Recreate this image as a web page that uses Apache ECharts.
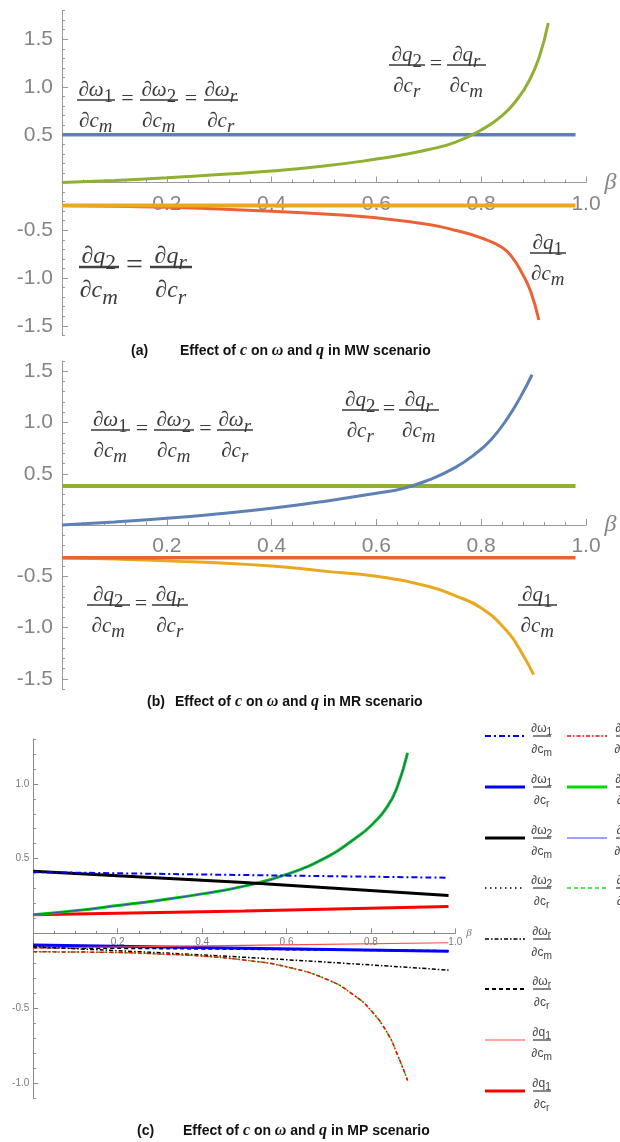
<!DOCTYPE html>
<html><head><meta charset="utf-8">
<script src="https://cdn.jsdelivr.net/npm/echarts@6/dist/echarts.min.js"></script>
<style>html,body{margin:0;padding:0;background:#fff}#c{width:620px;height:1142px}</style>
</head><body><div id="c"></div>
<script>
// ---------------- DATA ----------------
// Panel (a) MW scenario
const betaFlatA = [0, 0.98];
const dwdcA = [0.5, 0.5];                  // dω1/dcm = dω2/dcm = dωr/dcr
const dq2dcmA = [-0.24, -0.24];            // dq2/dcm = dqr/dcr
const betaGreenA = [0,0.1,0.2,0.3,0.4,0.5,0.6,0.65,0.7,0.75,0.8,0.84,0.87,0.89,0.91,0.928];
const dq2dcrA = [0,0.022,0.05,0.083,0.12,0.172,0.245,0.29,0.345,0.42,0.55,0.70,0.88,1.05,1.30,1.67];
const betaRedA = [0,0.1,0.2,0.3,0.4,0.5,0.6,0.7,0.75,0.8,0.84,0.86,0.88,0.895,0.91];
const dq1dcmA = [-0.24,-0.248,-0.26,-0.277,-0.30,-0.33,-0.37,-0.44,-0.50,-0.58,-0.68,-0.79,-0.97,-1.15,-1.44];

// Panel (b) MR scenario
const betaFlatB = [0, 0.98];
const dwdcB = [0.38, 0.38];
const dq2dcmB = [-0.32, -0.32];
const betaBlueB = [0,0.1,0.2,0.3,0.4,0.5,0.6,0.65,0.7,0.75,0.79,0.82,0.85,0.875,0.897];
const dq2dcrB = [0,0.03,0.065,0.11,0.163,0.23,0.31,0.355,0.44,0.56,0.70,0.84,1.04,1.25,1.466];
const betaYelB = [0,0.2,0.4,0.5,0.6,0.7,0.75,0.8,0.85,0.88,0.9];
const dq1dcmB = [-0.32,-0.35,-0.40,-0.45,-0.50,-0.60,-0.69,-0.81,-1.04,-1.27,-1.46];

// Panel (c) MP scenario
const betaLinC = [0, 0.5, 0.984];
const dw1dcmC = [0.41, 0.39, 0.372];
const dw1dcrC = [-0.078, -0.10, -0.12];
const dw2dcmC = [0.415, 0.34, 0.253];
const dw2dcrC = [-0.082, -0.10, -0.12];
const dwrdcmC = [-0.09, -0.16, -0.246];
const dwrdcrC = [-0.095, -0.105, -0.118];
const dq1dcmC = [-0.098, -0.08, -0.063];
const dq1dcrC = [0.125, 0.15, 0.18];
const betaCurC = [0,0.1,0.2,0.3,0.4,0.5,0.6,0.7,0.76,0.8,0.84,0.862,0.887];
const dq2dcrC = [0.125,0.152,0.186,0.222,0.264,0.316,0.394,0.517,0.63,0.72,0.853,0.976,1.207];   // = dqr/dcm
const dq2dcmC = [-0.123,-0.125,-0.128,-0.138,-0.152,-0.179,-0.224,-0.313,-0.414,-0.515,-0.671,-0.805,-0.984]; // = dqr/dcr

const ticksAB = [-1.5,-1,-0.5,0.5,1,1.5];
const ticksC = [-1,-0.5,0.5,1];

// ---------------- HELPERS ----------------
const pts = (xs, ys) => xs.map((x, i) => [x, ys[i]]);
function ln(xi, yi, xs, ys, color, width, type, smooth) {
  return { type: 'line', xAxisIndex: xi, yAxisIndex: yi, data: pts(xs, ys), symbol: 'none', showSymbol: false,
    smooth: smooth ? 0.5 : false, silent: true, animation: false,
    lineStyle: { color: color, width: width, type: type || 'solid', cap: 'butt' } };
}
const yFmt = v => { const k = v * 2; if (Math.abs(v) < 1e-9 || Math.abs(k - Math.round(k)) > 1e-6) return ''; return v.toFixed(1); };
const xFmt = v => Math.abs(v) < 1e-9 ? '' : v.toFixed(1);

// x axis placed at y = 0 through an offset from the grid bottom
function xAx(gi, off, o) {
  return { type: 'value', gridIndex: gi, min: 0, max: 1, interval: 0.2, position: 'bottom', offset: off,
    axisLine: { onZero: false, lineStyle: { color: o.c, width: 1 } },
    axisTick: { inside: true, length: o.tl, lineStyle: { color: o.c } },
    minorTick: { show: true, splitNumber: o.ms, length: o.ml, lineStyle: { color: o.c } },
    splitLine: { show: false }, minorSplitLine: { show: false },
    axisLabel: { formatter: xFmt, color: o.lc, fontSize: o.fs, fontFamily: 'Liberation Sans', margin: o.xm },
    name: 'β', nameLocation: 'end', nameGap: o.ng,
    nameTextStyle: { color: o.lc, fontSize: o.ns, fontStyle: 'italic', fontFamily: 'Liberation Serif' } };
}
function yAxes(gi, min, max, major, o) {
  return [
    { type: 'value', gridIndex: gi, min: min, max: max, interval: 0.1, position: 'left', offset: 0,
      axisLine: { show: true, onZero: false, lineStyle: { color: o.c, width: 1 } },
      axisTick: { inside: true, length: o.ml, lineStyle: { color: o.c } },
      splitLine: { show: false },
      axisLabel: { formatter: yFmt, color: o.lc, fontSize: o.fs, fontFamily: 'Liberation Sans', margin: o.ym } },
    { type: 'value', gridIndex: gi, min: min, max: max, interval: 0.1, position: 'left', offset: 0,
      axisLine: { show: false, onZero: false },
      axisTick: { inside: true, length: o.tl, customValues: major, lineStyle: { color: o.c } },
      splitLine: { show: false }, axisLabel: { show: false } }
  ];
}
const stAB = { c: '#9a9a9a', lc: '#858585', fs: 21, tl: 6, ml: 3, ms: 5, xm: 11, ym: 9, ng: 16, ns: 24 };
const stC = { c: '#8a8a8a', lc: '#7a7a7a', fs: 10, tl: 5, ml: 2.5, ms: 4, xm: 4, ym: 4, ng: 5, ns: 11 };

// ---- math text via graphic ----
const G = [];
const mctx = document.createElement('canvas').getContext('2d');
function toks(s) { const out = []; let buf = ''; for (let i = 0; i < s.length; i++) { if (s[i] === '_') { if (buf) { out.push({ t: buf, sub: false }); buf = ''; } out.push({ t: s[i + 1], sub: true }); i++; } else buf += s[i]; } if (buf) out.push({ t: buf, sub: false }); return out; }
function fstr(o, k) { const dig = /\d/.test(k.t); const size = k.sub ? o.size * o.subScale : o.size; return ((o.italic && !dig) ? 'italic ' : '') + (o.weight || 'normal') + ' ' + size + 'px "' + o.family + '"'; }
function mwidth(s, o) { return toks(s).reduce((w, k) => { mctx.font = fstr(o, k); return w + mctx.measureText(k.t).width + (k.sub ? 0.5 : 0); }, 0); }
function mdraw(x, y, s, o) {
  let cx = x;
  toks(s).forEach(k => {
    const f = fstr(o, k); mctx.font = f; const w = mctx.measureText(k.t).width;
    G.push({ type: 'text', x: cx, y: y + (k.sub ? o.size * o.subDy : 0), silent: true, z: 50,
      style: { text: k.t, font: f, fill: o.color, textAlign: 'left', textVerticalAlign: 'middle', align: 'left', verticalAlign: 'middle' } });
    cx += w + (k.sub ? 0.5 : 0);
  });
}
function frac(x1, x2, barY, num, den, o) {
  G.push({ type: 'line', silent: true, z: 50, shape: { x1: x1, y1: barY, x2: x2, y2: barY }, style: { stroke: o.bar, lineWidth: o.bw } });
  const cx = (x1 + x2) / 2;
  mdraw(cx - mwidth(num, o) / 2, barY - o.size * o.nUp, num, o);
  mdraw(cx - mwidth(den, o) / 2, barY + o.size * o.dDn, den, o);
}
function eq(barY, bars, o) {
  bars.forEach((b, i) => {
    frac(b[0], b[1], barY, b[2], b[3], o);
    if (i > 0) {
      const xm = (bars[i - 1][1] + b[0]) / 2;
      G.push({ type: 'text', x: xm, y: barY - 1, silent: true, z: 50,
        style: { text: '=', font: 'normal ' + o.eqSize + 'px "' + o.family + '"', fill: o.color, textAlign: 'center', textVerticalAlign: 'middle', align: 'center', verticalAlign: 'middle' } });
    }
  });
}
const mA = { size: 21, family: 'Liberation Serif', italic: true, color: '#3b3b3b', subScale: 0.9, subDy: 0.3, nUp: 0.45, dDn: 1.0, bar: '#6a6a6a', bw: 2, eqSize: 22 };
const mBig = Object.assign({}, mA, { size: 24, eqSize: 30, bw: 2.5, bar: '#444' });
const mL = { size: 12, family: 'Liberation Sans', italic: false, color: '#444', subScale: 0.85, subDy: 0.3, nUp: 0.6, dDn: 1.1, bar: '#444', bw: 1.3, eqSize: 12 };

// Panel (a) labels
eq(100, [[77, 115, '∂ω_1', '∂c_m'], [140, 178, '∂ω_2', '∂c_m'], [204, 238, '∂ω_r', '∂c_r']], mA);
eq(65, [[389, 425, '∂q_2', '∂c_r'], [447, 486, '∂q_r', '∂c_m']], mA);
eq(267, [[79, 119, '∂q_2', '∂c_m'], [150, 192, '∂q_r', '∂c_r']], mBig);
eq(253, [[530, 566, '∂q_1', '∂c_m']], mA);
// Panel (b) labels
eq(430, [[91, 130, '∂ω_1', '∂c_m'], [154, 194, '∂ω_2', '∂c_m'], [217, 253, '∂ω_r', '∂c_r']], mA);
eq(410, [[342, 379, '∂q_2', '∂c_r'], [399, 439, '∂q_r', '∂c_m']], mA);
eq(605, [[87, 130, '∂q_2', '∂c_m'], [152, 188, '∂q_r', '∂c_r']], mA);
eq(605, [[518, 557, '∂q_1', '∂c_m']], mA);

// Panel (c) legend
const legRows = [736, 787, 838, 888, 939, 989, 1040, 1091];
const leg1 = [
  ['#0000ff', 2, [6, 3, 2, 3], '∂ω_1', '∂c_m'],
  ['#0000ff', 3, null, '∂ω_1', '∂c_r'],
  ['#000000', 3, null, '∂ω_2', '∂c_m'],
  ['#000000', 1.5, [1.5, 3.5], '∂ω_2', '∂c_r'],
  ['#000000', 1.5, [4, 2, 1.5, 2], '∂ω_r', '∂c_m'],
  ['#000000', 2, [4, 3], '∂ω_r', '∂c_r'],
  ['#ff4a4a', 1.2, null, '∂q_1', '∂c_m'],
  ['#ff0000', 3, null, '∂q_1', '∂c_r']
];
const leg2 = [
  ['#ff0000', 1.5, [4, 2, 1.5, 2], '∂q_2', '∂c_m'],
  ['#00dd00', 3, null, '∂q_2', '∂c_r'],
  ['#7f7fff', 1.5, null, '∂q_r', '∂c_m'],
  ['#22dd22', 1.5, [4, 3], '∂q_r', '∂c_r']
];
function legItem(x1, x2, lx, y, it) {
  G.push({ type: 'line', silent: true, z: 50, shape: { x1: x1, y1: y, x2: x2, y2: y },
    style: { stroke: it[0], lineWidth: it[1], lineDash: it[2] || null } });
  frac(lx, lx + 18, y, it[3], it[4], mL);
}
leg1.forEach((it, i) => legItem(485, 525, 533, legRows[i], it));
leg2.forEach((it, i) => legItem(567, 607, 616, legRows[i], it));

// Captions
function caption(x0, x1, y, tag, scen) {
  G.push({ type: 'text', x: x0, y: y, silent: true, z: 50,
    style: { text: tag, font: 'bold 14px "Liberation Sans"', fill: '#111', textAlign: 'left', textVerticalAlign: 'middle', align: 'left', verticalAlign: 'middle' } });
  G.push({ type: 'text', x: x1, y: y, silent: true, z: 50,
    style: { text: '{b|Effect of }{i|c}{b| on }{i|ω}{b| and }{i|q}{b| in ' + scen + ' scenario}',
      textAlign: 'left', textVerticalAlign: 'middle', align: 'left', verticalAlign: 'middle',
      rich: { b: { font: 'bold 14px "Liberation Sans"', fill: '#111' }, i: { font: 'italic bold 16px "Liberation Serif"', fill: '#111' } } } });
}
caption(131, 180, 351, '(a)', 'MW');
caption(147, 175, 702, '(b)', 'MR');
caption(137, 183, 1131, '(c)', 'MP');

// ---------------- CHART ----------------
const gA = { left: 62, top: 10.6, width: 524, height: 324.7 };
const gB = { left: 62, top: 361, width: 524, height: 328 };
const gC = { left: 33.3, top: 739, width: 422, height: 358.8 };
// distance of y = 0 above the grid bottom
const zOff = (g, min, max) => -g.height * (0 - min) / (max - min);
const ya = yAxes(0, -1.6, 1.8, ticksAB, stAB);
const yb = yAxes(1, -1.6, 1.6, ticksAB, stAB);
const yc = yAxes(2, -1.1, 1.3, ticksC, stC);
const cMA = '#5e81b5', cMY = '#e9a820', cMG = '#8fb032', cMR = '#eb6235';
const option = {
  animation: false,
  backgroundColor: '#ffffff',
  grid: [gA, gB, gC],
  xAxis: [xAx(0, zOff(gA, -1.6, 1.8), stAB), xAx(1, zOff(gB, -1.6, 1.6), stAB), xAx(2, zOff(gC, -1.1, 1.3), stC)],
  yAxis: [ya[0], ya[1], yb[0], yb[1], yc[0], yc[1]],
  series: [
    // (a)
    ln(0, 0, betaFlatA, dwdcA, cMA, 3.5),
    ln(0, 0, betaRedA, dq1dcmA, cMR, 3, null, true),
    ln(0, 0, betaFlatA, dq2dcmA, cMY, 4),
    ln(0, 0, betaGreenA, dq2dcrA, cMG, 3, null, true),
    // (b)
    ln(1, 2, betaFlatB, dwdcB, cMG, 4),
    ln(1, 2, betaBlueB, dq2dcrB, cMA, 3, null, true),
    ln(1, 2, betaYelB, dq1dcmB, cMY, 3, null, true),
    ln(1, 2, betaFlatB, dq2dcmB, cMR, 3.5),
    // (c)
    ln(2, 4, betaLinC, dwrdcrC, '#000000', 2, [4, 3], true),
    ln(2, 4, betaLinC, dw2dcrC, '#000000', 1.5, [1.5, 3.5], true),
    ln(2, 4, betaLinC, dw1dcrC, '#0000ff', 3, null, true),
    ln(2, 4, betaLinC, dq1dcmC, '#ff4a4a', 1.2, null, true),
    ln(2, 4, betaLinC, dwrdcmC, '#000000', 1.5, [4, 2, 1.5, 2], true),
    ln(2, 4, betaCurC, dq2dcmC, '#22dd22', 1.5, [4, 3], true),
    ln(2, 4, betaCurC, dq2dcmC, '#ff0000', 1.5, [4, 2, 1.5, 2], true),
    ln(2, 4, betaLinC, dq1dcrC, '#ff0000', 3, null, true),
    ln(2, 4, betaCurC, dq2dcrC, '#00cc00', 3, null, true),
    ln(2, 4, betaCurC, dq2dcrC, '#4040d0', 1, null, true),
    ln(2, 4, betaLinC, dw2dcmC, '#000000', 3, null, true),
    ln(2, 4, betaLinC, dw1dcmC, '#0000ff', 2, [6, 3, 2, 3], true)
  ],
  graphic: { elements: G }
};
const chart = echarts.init(document.getElementById('c'), null, { renderer: 'canvas', width: 620, height: 1142 });
chart.setOption(option);
</script></body></html>
